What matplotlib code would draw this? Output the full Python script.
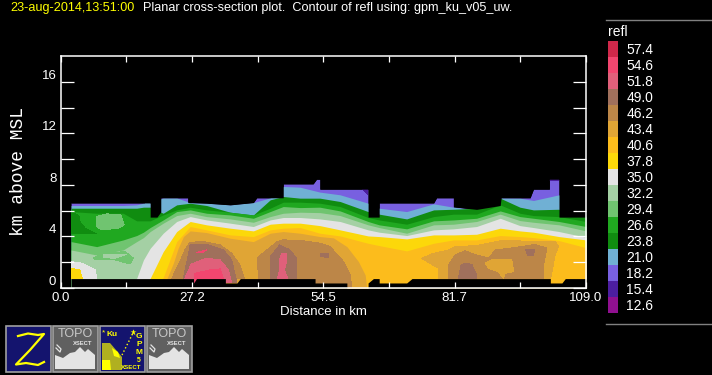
import matplotlib
matplotlib.use("Agg")
import matplotlib.pyplot as plt
from matplotlib.patches import Rectangle, Polygon

# ---------- data ----------
LEVELS = [57.4, 54.6, 51.8, 49.0, 46.2, 43.4, 40.6, 37.8, 35.0, 32.2, 29.4, 26.6, 23.8, 21.0, 18.2, 15.4, 12.6]
COLORS = ['#d0284a', '#f2466f', '#e0607a', '#a0705c', '#bc8648', '#e0a535', '#fcbc1c', '#fcd80a', '#e4e4e4',
          '#a4d0a4', '#70c470', '#20a820', '#108c10', '#70b0d4', '#7860e0', '#4c1ea0', '#901090']
C = dict(zip(LEVELS, COLORS))

X = [2.2, 7.5, 13, 15.8, 17.2, 18.6, 21.3, 24.1, 26.9, 30.3, 35.2, 40, 43.5, 46.2, 49.7, 53.8, 58, 63.8, 66.1, 71.8,
     77.4, 81.5, 86.3, 91.2, 95.3, 98.1, 103.4, 109]
T210 = [6.40, 6.40, 6.40, 6.45, 6.58, 6.61, 6.99, 6.99, 6.63, 6.58, 6.45, 6.63, 6.99, 7.88, 7.82, 7.44, 7.23, 6.58,
        6.19, 5.93, 6.53, 6.27, 6.06, 6.99, 6.97, 6.79, 7.23, 5.54]
T238 = [6.19, 6.19, 6.19, 6.19, 6.27, 6.27, 5.80, 6.45, 6.58, 6.40, 5.88, 5.67, 6.84, 7.10, 6.97, 6.97, 6.71, 5.93,
        5.73, 5.36, 6.06, 6.11, 6.19, 6.97, 6.27, 6.06, 6.11, 5.54]
T266 = [5.93, 5.80, 5.80, 5.21, 5.21, 5.21, 5.67, 6.06, 6.27, 6.06, 5.88, 5.67, 6.19, 6.66, 6.66, 6.58, 6.32, 5.47,
        5.28, 4.95, 5.54, 5.73, 5.73, 6.45, 5.80, 5.62, 5.54, 5.16]
T294 = [3.60, 3.21, 3.73, 4.07, 4.33, 4.69, 5.28, 5.93, 6.06, 5.80, 5.67, 5.41, 5.93, 6.32, 6.24, 6.27, 5.98, 5.16,
        4.90, 4.59, 5.21, 5.28, 5.41, 5.98, 5.54, 5.41, 5.16, 4.77]
T322 = [2.95, 2.56, 2.95, 3.60, 3.91, 4.38, 5.03, 5.62, 5.80, 5.54, 5.36, 5.10, 5.54, 5.80, 5.88, 5.85, 5.62, 4.90,
        4.69, 4.25, 4.90, 4.95, 5.16, 5.73, 5.23, 5.10, 4.90, 4.43]
T350 = [0, 0, 0, 0.75, 2.18, 3.08, 4.25, 5.16, 5.54, 5.28, 5.03, 4.77, 5.28, 5.47, 5.47, 5.36, 5.16, 4.51, 4.33, 4.07,
        4.51, 4.59, 4.77, 5.41, 4.84, 4.69, 4.38, 3.94]
T378 = [0, 0, 0, 0, 0, 0.75, 2.82, 4.38, 5.16, 4.90, 4.64, 4.43, 4.95, 5.03, 5.03, 4.84, 4.51, 4.04, 3.99, 3.81, 4.12,
        4.12, 4.17, 4.64, 4.43, 4.33, 3.99, 3.73]
T406 = [0, 0, 0, 0, 0, 0, 0.8, 3.6, 4.77, 4.51, 4.12, 3.99, 4.51, 4.64, 4.69, 4.25, 4.04, 3.47, 3.29, 2.88, 3.47, 3.73,
        3.73, 4.07, 3.99, 3.91, 3.68, 3.13]

X434 = [22.1, 23.4, 24.4, 25.5, 26.9, 30.3, 35.2, 40, 43.5, 46.2, 49.7, 53.8, 56.6, 59.4, 61.8, 63.2, 63.5]
T434 = [0.75, 1.92, 3.08, 3.99, 4.43, 4.30, 3.86, 3.60, 4.25, 4.38, 4.25, 3.99, 3.89, 3.21, 2.05, 1.01, 0.0]

# closed regions: level, x (km), z (km)
REGIONS = [
    (21.0, [17.5, 18.6, 18.6, 17.5], [6.65, 6.65, 6.40, 6.40]),
    (15.4, [62.5, 63.8, 63.8], [7.70, 7.70, 7.20]),
    (15.4, [101.4, 103.4, 103.4, 101.4], [8.44, 8.44, 8.30, 8.30]),
    (23.8, [2.2, 3.8, 4.0, 5.1, 7.5, 2.2], [5.93, 5.62, 5.16, 4.64, 4.20, 4.20]),
    (29.4, [7.5, 9.6, 12.5, 13.2, 12.0, 8.5, 7.5], [5.54, 5.75, 5.67, 4.90, 4.64, 4.51, 4.77]),
    (29.4, [6.8, 8.5, 13.4, 15.1, 14.4, 11.3, 7.5], [2.31, 2.69, 2.82, 2.31, 1.87, 2.18, 2.18]),
    (32.2, [8.9, 13.7, 11.3, 8.9], [2.56, 2.62, 2.31, 2.36]),
    (35.0, [2.2, 4.4, 7.2, 7.5, 2.2], [2.05, 1.92, 1.40, 0.75, 0.75]),
    (37.8, [2.2, 4.0, 4.5, 2.2], [1.53, 1.40, 0.75, 0.75]),
    # orange lobe, right
    (43.4, [74.9, 77.4, 80.5, 81.85, 86.3, 91.2, 95.3, 98.1, 102.6, 103.3, 102.6, 101.8, 101.6, 78.4, 78.4],
     [2.31, 2.69, 2.95, 3.21, 3.29, 3.65, 3.65, 3.60, 3.60, 3.21, 2.56, 1.01, 0.7, 0.7, 1.53]),
    # tan lobes
    (46.2, [23.1, 24.8, 25.8, 26.9, 29.6, 33.1, 35.5, 37.2, 38.1], [0.75, 2.05, 2.95, 3.55, 3.60, 3.34, 2.69, 1.79, 0.75]),
    (46.2, [41.1, 40.8, 42.8, 45.0, 46.2, 49.7, 53.8, 55.9, 58.7, 60.1, 60.4, 41.1],
     [0.75, 2.33, 2.95, 3.60, 3.73, 3.70, 3.47, 3.21, 2.05, 1.01, 0, 0]),
    (46.2, [80.5, 80.5, 81.85, 83.9, 86.3, 88.8, 90.2, 95.7, 98.4, 100.9, 100.2, 100.2],
     [0.7, 1.79, 2.56, 2.88, 2.56, 2.31, 2.95, 3.21, 3.39, 3.08, 1.79, 0.7]),
    (43.4, [88.1, 89.4, 93.6, 94.0, 92.2, 91.9, 90.8, 88.8], [1.94, 2.18, 2.18, 1.27, 1.14, 0.75, 1.27, 1.53]),
    # brown
    (49.0, [82.5, 83.1, 83.9, 85.3, 86.3, 86.3], [0.7, 1.79, 1.92, 1.84, 1.01, 0.7]),
    (49.0, [96.5, 98.3, 98.1, 96.9], [2.95, 2.95, 2.49, 2.49]),
    (49.0, [53.84, 55.6, 55.6, 53.84], [2.69, 2.64, 2.36, 2.45]),
    (49.0, [25.5, 26.5, 26.9, 30.3, 33.8, 35.5, 36.6, 25.5], [0.75, 2.56, 3.34, 3.39, 2.95, 2.18, 0.39, 0.39]),
    (51.8, [25.8, 27.2, 27.6, 30.3, 33.1, 34.8, 35.5, 25.8], [0.75, 1.92, 1.92, 2.31, 2.18, 1.40, 0.39, 0.39]),
    (54.6, [27.6, 27.9, 31.0, 33.1, 33.8, 34.1, 27.6], [0.39, 1.14, 1.40, 1.48, 0.75, 0.39, 0.39]),
    (54.6, [28.3, 30.2, 29.6], [2.77, 2.95, 2.77]),
    (49.0, [43.5, 43.5, 45.5, 47.6, 48.9, 49.0], [0.75, 2.44, 3.34, 2.95, 2.31, 0.75]),
    (51.8, [45.0, 45.5, 45.4, 45.9, 46.8, 46.9, 46.4, 47.1], [0.75, 1.40, 2.18, 2.69, 2.69, 2.05, 1.40, 0.75]),
]

OUTLINE_X = [2.2, 18.6, 18.6, 20.0, 20.8, 20.8, 26.4, 26.4, 30.3, 35.2, 40.0, 40.7, 46.2, 46.2, 52.4, 53.1, 53.8, 53.8,
             63.8, 63.8, 66.1, 66.1, 77.4, 78.0, 81.5, 81.5, 86.3, 91.2, 91.4, 97.4, 98.1, 101.4, 101.4, 103.4, 103.4, 109]
OUTLINE_Z = [6.6, 6.6, 5.5, 5.5, 5.9, 7.0, 7.0, 6.63, 6.58, 6.45, 6.63, 7.0, 7.0, 8.08, 8.08, 8.44, 8.44, 7.67,
             7.67, 5.5, 5.5, 6.6, 6.6, 7.0, 7.0, 6.3, 6.1, 6.4, 7.0, 7.0, 7.67, 7.67, 8.44, 8.44, 5.5, 5.5]
GROUND_X = [2.2, 27.6, 27.6, 28.2, 34.2, 34.2, 36.6, 37.3, 52.8, 52.8, 59.4, 59.4, 63.8, 63.8, 64.9, 66.1, 66.1, 71.8,
            72.9, 101.6, 101.6, 104, 104.7, 109]
GROUND_Z = [0.73, 0.73, 0.39, 0.73, 0.73, 0.39, 0.39, 0.73, 0.73, 0.39, 0.39, 0, 0, 0.39, 0.73, 0.73, 0.39, 0.39,
            0.73, 0.73, 0.39, 0.39, 0.73, 0.73]

X_TICKS = [109 / 8 * i for i in range(9)]
X_LABELS = ['0.0', '', '27.2', '', '54.5', '', '81.7', '', '109.0']
Y_TICKS = [0, 2, 4, 6, 8, 10, 12, 14, 16]
Y_LABELS = ['0', '', '4', '', '8', '', '12', '', '16']
YELLOW = '#ffff00'
FONT = 'Liberation Sans'

# ---------- figure ----------
plt.rcParams['font.family'] = FONT
W, H = 712, 375
fig = plt.figure(figsize=(W / 100, H / 100), dpi=100, facecolor='black')

ax = fig.add_axes([60.5 / W, (H - 288) / H, 525.5 / W, 232 / H], facecolor='black')
ax.set_xlim(0, 109)
ax.set_ylim(0, 18)

kw = dict(antialiased=False, linewidth=0)
ax.fill_between(OUTLINE_X, 0, OUTLINE_Z, color=C[18.2], **kw)
for lev, top in [(21.0, T210), (23.8, T238), (26.6, T266), (29.4, T294), (32.2, T322),
                 (35.0, T350), (37.8, T378), (40.6, T406)]:
    ax.fill_between(X, 0, top, color=C[lev], **kw)
ax.fill_between(X434, 0, T434, color=C[43.4], **kw)
for lev, xs, zs in REGIONS:
    ax.add_patch(Polygon(list(zip(xs, zs)), closed=True, facecolor=C[lev], edgecolor='none', antialiased=False))
ax.fill_between(OUTLINE_X, OUTLINE_Z, 10, color='black', **kw)
ax.fill_between(GROUND_X, 0, GROUND_Z, color='black', **kw)
ax.fill_between([0, X[0]], 0, 10, color='black', **kw)

for s in ax.spines.values():
    s.set_color('white')
    s.set_linewidth(1.1)
    s.set_zorder(5)
ax.set_xticks(X_TICKS, X_LABELS)
ax.set_yticks(Y_TICKS, Y_LABELS)
ax.tick_params(axis='x', direction='in', top=True, length=4.5, width=0.9, color='white', labelcolor='white',
               labelsize=9.5, pad=3, zorder=6)
ax.tick_params(axis='y', direction='in', right=True, length=9.5, width=0.9, color='white', labelcolor='white',
               labelsize=9.5, pad=3, zorder=6)
for t in ax.get_yticklabels():
    t.set_verticalalignment('bottom')
ax.set_xlabel('Distance in km', color='white', fontsize=9.5, labelpad=1)

# overlay in pixel coordinates for page furniture
ov = fig.add_axes([0, 0, 1, 1], facecolor='none')
ov.set_xlim(0, W)
ov.set_ylim(H, 0)
ov.axis('off')
ov.text(10, 7.5, '23-aug-2014,13:51:00', color=YELLOW, fontsize=9.1, va='center', ha='left')
ov.text(143, 7.5, 'Planar cross-section plot.  Contour of refl using: gpm_ku_v05_uw.', color='white',
        fontsize=9.1, va='center', ha='left')
ov.text(19, 172, 'km above MSL', color='white', fontsize=13, family='Liberation Mono', rotation=90,
        va='center', ha='center')

# colour key
ov.plot([606, 712], [19.7, 19.7], color='#808080', lw=1)
ov.plot([606, 712], [324, 324], color='#808080', lw=1)
ov.text(608, 32, 'refl', color='white', fontsize=10, va='center', ha='left')
key = fig.add_axes([608 / W, (H - 313) / H, 10 / W, 272 / H], facecolor='black')
key.barh(range(len(LEVELS)), [1] * len(LEVELS), height=1, color=COLORS[::-1], linewidth=0)
key.set_xlim(0, 1)
key.set_ylim(-0.5, len(LEVELS) - 0.5)
key.set_xticks([])
key.set_yticks(range(len(LEVELS)), [f'{v:.1f}' for v in LEVELS[::-1]])
key.yaxis.tick_right()
key.tick_params(axis='y', length=0, labelcolor='white', labelsize=10, pad=6)
for s in key.spines.values():
    s.set_visible(False)

# icon tiles
def tile(x0, bg):
    ov.add_patch(Rectangle((x0 + .5, 325.5), 45.5, 46.5, facecolor=bg, edgecolor='#a0a0a0', lw=1.2))

def topo(x0):
    tile(x0, '#606060')
    ov.text(x0 + 23, 334, 'TOPO', color='#c8c8c8', fontsize=9, ha='center', va='center')
    ov.text(x0 + 31, 343.5, 'XSECT', color='#e4e4e4', fontsize=4.2, weight='bold', ha='center', va='center')
    ov.add_patch(Polygon([(x0 + 3, 364), (x0 + 3, 355), (x0 + 11, 358), (x0 + 18, 353), (x0 + 23, 352),
                          (x0 + 28, 347), (x0 + 33, 352), (x0 + 36, 349), (x0 + 43, 355), (x0 + 43, 369),
                          (x0 + 3, 369)], facecolor='#e4e4e4', edgecolor='none'))
    ov.plot([x0 + 5, x0 + 9, x0 + 8, x0 + 4], [345, 349, 352, 348], color='#e4e4e4', lw=0.9)

tile(5, '#14146e')
ov.plot([18, 28, 38, 44, 30, 16, 26, 38, 44], [336, 333.5, 335, 334, 350, 364.5, 363, 365, 362],
        color=YELLOW, lw=1.6)
topo(52)
tile(99, '#14146e')
ov.add_patch(Polygon([(102, 343), (110, 343), (122, 357), (122, 370), (102, 370)], facecolor='#b0b020', edgecolor='none'))
ov.add_patch(Polygon([(102, 360), (110, 360), (111, 370), (102, 370)], facecolor=YELLOW, edgecolor='none'))
ov.add_patch(Polygon([(112, 348), (118, 352), (120, 358), (114, 356)], facecolor=YELLOW, edgecolor='none'))
ov.plot([122, 133], [355, 333], color=YELLOW, lw=1, ls=':')
ov.plot([133], [332], marker='*', color=YELLOW, ms=5, mec='none')
ov.text(112, 334, 'Ku', color=YELLOW, fontsize=6, weight='bold', ha='center', va='center')
ov.text(104, 332.5, '*', color=YELLOW, fontsize=6, ha='center', va='center')
for ch, y in zip('GPM', [336, 344, 352]):
    ov.text(139, y, ch, color=YELLOW, fontsize=6, weight='bold', ha='center', va='center')
ov.text(139, 360, '5', color=YELLOW, fontsize=5, weight='bold', ha='center', va='center')
ov.text(131, 367.5, 'XSECT', color=YELLOW, fontsize=4.4, weight='bold', ha='center', va='center')
topo(146)

fig.savefig('out.png', dpi=100, facecolor='black')
